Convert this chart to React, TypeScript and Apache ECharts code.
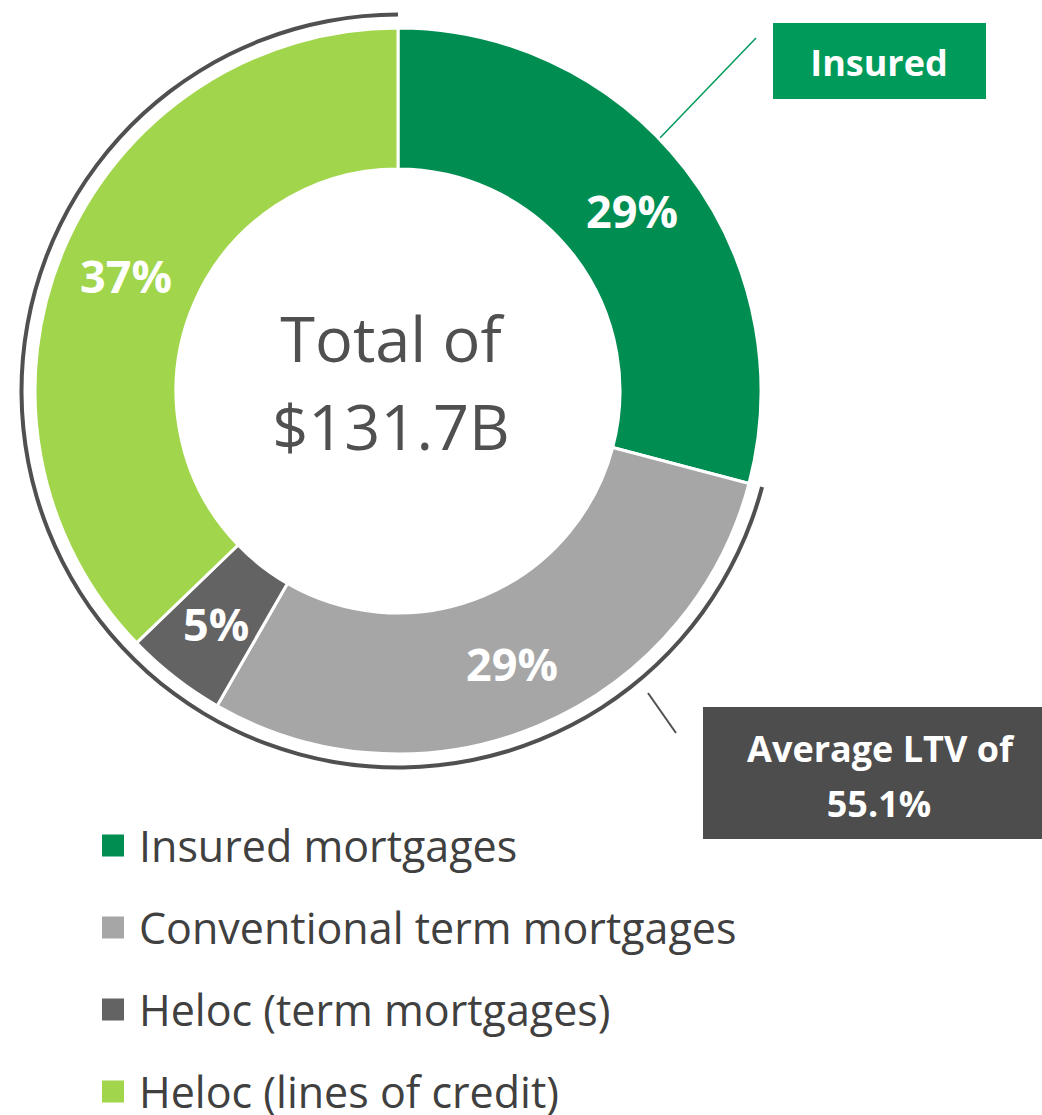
import React, { useEffect, useRef } from "react";
import * as echarts from "echarts";

const categories = [
  "Insured mortgages",
  "Conventional term mortgages",
  "Heloc (term mortgages)",
  "Heloc (lines of credit)",
];
const shares = [29.1, 29.2, 4.5, 37.2];
const colors = ["#008D52", "#A6A6A6", "#636363", "#A1D54B"];
const centerLines = ["Total of", "$131.7B"];
const insuredCallout = "Insured";
const ltvCallout = ["Average LTV of", "55.1%"];

const FONT = "'Open Sans', 'Noto Sans', sans-serif";

export default function App() {
  const ref = useRef<HTMLDivElement>(null);
  useEffect(() => {
    document.body.style.margin = "0";
    document.body.style.overflow = "hidden";
    const chart = echarts.init(ref.current!, null, { renderer: "svg" });
    const nonInsured = shares.slice(1).reduce((a, b) => a + b, 0);
    const whiteBold = (text: string, x: number, y: number, size: number) => ({
      type: "text",
      x,
      y,
      style: {
        text,
        fill: "#ffffff",
        fontFamily: FONT,
        fontWeight: "bold",
        fontSize: size,
        align: "center",
        verticalAlign: "middle",
      },
    });
    chart.setOption({
      animation: false,
      backgroundColor: "#ffffff",
      legend: {
        orient: "vertical",
        left: 100,
        top: 824,
        height: 291,
        padding: 0,
        data: categories,
        icon: "rect",
        itemWidth: 24,
        itemHeight: 24,
        itemGap: 39,
        selectedMode: false,
        textStyle: {
          fontFamily: FONT,
          fontSize: 43,
          lineHeight: 43,
          color: "#404040",
          padding: [0, 0, 0, 9],
        },
      },
      series: [
        {
          type: "pie",
          center: [398, 391],
          radius: [222, 363],
          startAngle: 90,
          clockwise: true,
          avoidLabelOverlap: false,
          silent: true,
          itemStyle: { borderColor: "#ffffff", borderWidth: 3 },
          label: {
            show: true,
            position: "inside",
            formatter: (p: any) => Math.round(p.value) + "%",
            color: "#ffffff",
            fontFamily: FONT,
            fontWeight: "bold",
            fontSize: 45,
          },
          labelLine: { show: false },
          data: categories.map((c, i) => ({
            name: c,
            value: shares[i],
            itemStyle: { color: colors[i] },
          })),
        },
        {
          type: "pie",
          center: [398, 391],
          radius: [374.5, 378.5],
          startAngle: 90,
          clockwise: true,
          silent: true,
          label: { show: false },
          labelLine: { show: false },
          itemStyle: { borderWidth: 0 },
          data: [
            { name: "insured-gap", value: shares[0], itemStyle: { color: "rgba(0,0,0,0)" } },
            { name: "non-insured", value: nonInsured, itemStyle: { color: "#505050" } },
          ],
        },
      ],
      graphic: [
        {
          type: "text",
          x: 391,
          y: 337,
          style: {
            text: centerLines[0],
            fill: "#505050",
            fontFamily: FONT,
            fontSize: 63,
            align: "center",
            verticalAlign: "middle",
          },
        },
        {
          type: "text",
          x: 391,
          y: 425,
          style: {
            text: centerLines[1],
            fill: "#505050",
            fontFamily: FONT,
            fontSize: 63,
            align: "center",
            verticalAlign: "middle",
          },
        },
        {
          type: "line",
          shape: { x1: 658, y1: 140, x2: 756, y2: 38 },
          style: { stroke: "#009A5B", lineWidth: 1.5 },
        },
        {
          type: "rect",
          shape: { x: 773, y: 23, width: 213, height: 76 },
          style: { fill: "#009A5B" },
        },
        whiteBold(insuredCallout, 879, 62, 36),
        {
          type: "line",
          shape: { x1: 648, y1: 693, x2: 676, y2: 733 },
          style: { stroke: "#505050", lineWidth: 2 },
        },
        {
          type: "rect",
          shape: { x: 703, y: 707, width: 345, height: 132 },
          style: { fill: "#4D4D4D" },
        },
        whiteBold(ltvCallout[0], 880, 748, 36),
        whiteBold(ltvCallout[1], 879, 803, 36),
      ],
    });
    return () => chart.dispose();
  }, []);
  return <div ref={ref} style={{ width: 1042, height: 1115 }} />;
}
